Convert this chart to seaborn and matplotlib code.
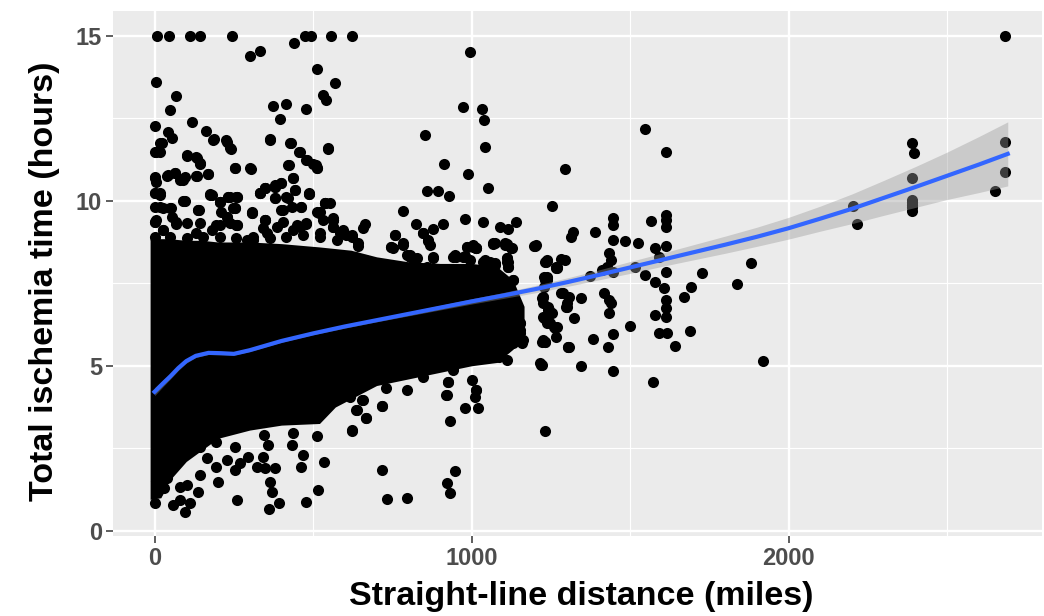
import matplotlib
matplotlib.use("Agg")
import matplotlib.pyplot as plt
import seaborn as sns
import numpy as np

# ---------------- data ----------------
# individually visible points (distance in miles, ischemia time in hours)
pt_x = [8, 46, 111, 143, 244, 474, 492, 556, 622, 2680,
        300, 332, 439, 994, 513, 568, 532, 539, 3, 67,
        48, 374, 413, 395, 479, 971, 1033, 1039, 1041, 852,
        1, 118, 43, 54, 22, 6, 17, 161, 187, 224,
        241, 364, 429, 455, 547, 101, 134, 143, 255, 303,
        423, 482, 509, 511, 912, 988, 1050, 858, 894, 929,
        784, 824, 878, 910, 978, 1036, 1141, 1089, 1113, 758,
        845, 863, 1005, 1068, 1110, 1126, 752, 795, 826, 878,
        941, 973, 994, 1057, 1110,
        1, 38, 64, 90, 134, 169,
        1, 17, 92, 174, 206, 232, 260,
        332, 348, 379, 400, 437, 487, 537,
        379, 421, 463, 140, 306, 348,
        6, 48, 248, 259, 519, 563, 663, 621, 642, 663,
        1252, 847, 861, 658, 747, 784, 805, 742, 716,
        984, 1015, 1104, 1199, 947, 978, 1041, 1073, 1110, 1115,
        1236, 1131, 1236, 1268,
        1547, 1614, 1295, 1566, 1614, 1614, 1614, 1389, 1319, 1313,
        1444, 1447, 1444, 1482, 1525, 1196, 1232, 1283, 1265,
        1433, 1438, 1427, 1444, 1579, 1614, 1590, 1514, 1547, 1579, 1606,
        1614, 1373, 1411, 1726, 1881, 1836, 1691, 1669,
        1227, 1232, 1227, 1129, 1107, 1096,
        1281, 1308, 1346, 1297, 1221,
        1416, 1433, 1438, 1433, 1614, 1614, 1614, 1579,
        1243, 1227, 1259, 1322, 1500, 1590, 1617, 1688, 1642,
        1444, 1431, 1381, 1308, 1221, 1219, 1346, 1444, 1570, 1919, 1230,
        1118, 1151, 1151, 1107, 1129, 1086,
        2203, 2216, 2389, 2396, 2389, 2389, 2389, 2389, 2389, 2389,
        2680, 2680, 2650,
        931, 978, 1020, 1010, 918, 926, 1000, 942, 1015,
        716, 668, 637, 621, 616, 658, 731, 795, 847,
        716, 733, 795, 947, 921, 931,
        0, 59, 80, 96, 111, 80, 101, 137, 143, 166, 143,
        199, 195, 227, 253, 269, 259, 193, 253, 295, 322,
        348, 379, 364, 369, 393, 360, 342, 358, 345,
        437, 432, 467, 463, 477, 516, 534, 513,
        621, 668, 635, 653, 718,
        10, 5, 30, 20, 40,
        1005, 1015, 1073, 1110, 952, 1063, 1115, 1234, 1269, 1294,
        1236, 1225, 1241, 1268, 1231, 1215, 1288, 1299, 1304,
        1152, 1157, 1110, 1057,
        1, 0, 27, 54, 96, 137, 180, 206, 237, 259, 253,
        227, 206, 259, 306, 348, 332, 348, 379, 405, 442,
        487, 521, 537, 563, 590, 132, 69, 27, 180, 353, 311,
        290, 479, 458, 437, 521, 563, 595,
        942, 926, 921, 1015, 1225, 1252, 1236, 1262, 1231, 1223, 1299, 1304,
        17, 1, 185, 227, 237, 363, 427, 458, 547, 101,
        132, 143, 253, 300, 421, 479, 500, 511, 1, 6,
        43, 64, 80, 96, 132, 169, 400, 437, 379, 1,
        17, 90, 174, 206, 232, 258, 332, 348, 379, 416,
        442, 488, 17, 53, 138, 211, 253, 227, 306, 348,
        400, 432, 463, 511, 537, 563, 1, 27, 69, 101,
        143, 195, 237, 258, 343, 385, 406, 448, 479, 532,
        563, 584, 605,
        0, 48, 101, 153, 206, 258, 311, 364, 416, 469, 521, 574,
        553, 563, 595, 621, 642, 632, 658, 758, 747, 784,
        815, 805, 742, 716, 795, 858, 878, 868, 947, 978,
        1015, 984, 1036, 1073, 1068, 1104, 1125, 1110, 1115, 1204,
        1236, 1267, 1236, 1225, 1241, 1225, 1246, 1225, 1267, 1141,
        1152, 1162, 1131]
pt_y = [15.0, 15.0, 15.0, 15.0, 15.0, 15.0, 15.0, 15.0, 15.0, 15.0,
        14.38, 14.55, 14.79, 14.5, 14.0, 13.56, 13.2, 13.05, 13.6, 13.16,
        12.75, 12.87, 12.93, 12.47, 12.77, 12.85, 12.79, 12.45, 11.64, 11.99,
        12.26, 12.39, 12.09, 11.91, 11.74, 11.48, 11.48, 12.11, 11.87, 11.84,
        11.56, 11.87, 11.74, 11.48, 11.57, 11.36, 11.31, 11.13, 10.98, 10.96,
        11.08, 11.23, 11.08, 10.98, 11.11, 10.8, 10.39, 10.3, 10.3, 10.15,
        9.69, 9.29, 9.14, 9.31, 9.45, 9.36, 9.35, 9.19, 9.13, 8.96,
        9.01, 8.81, 8.61, 8.69, 8.69, 8.56, 8.57, 8.35, 8.26, 8.29,
        8.29, 8.29, 8.2, 8.14, 8.14,
        10.73, 10.75, 10.83, 10.63, 10.75, 10.81,
        10.22, 10.22, 10.0, 10.2, 9.97, 10.12, 10.12,
        10.22, 10.38, 10.48, 10.53, 10.68, 10.22, 9.92,
        10.07, 10.07, 9.82, 9.72, 9.67, 9.42,
        9.42, 9.77, 9.77, 9.26, 9.62, 9.42, 9.31, 8.96, 8.71, 8.2,
        9.84, 9.01, 8.79, 9.16, 8.59, 8.71, 8.3, 8.0, 7.7,
        8.61, 8.56, 8.71, 8.63, 8.32, 8.32, 8.2, 8.1, 8.25, 8.0,
        8.18, 7.6, 7.7, 8.0,
        12.16, 11.49, 10.95, 9.38, 9.57, 9.42, 9.21, 9.06, 9.06, 8.89,
        9.47, 9.26, 8.81, 8.79, 8.71, 8.64, 8.15, 8.23, 7.95,
        8.41, 8.2, 8.0, 7.85, 8.56, 8.64, 8.3, 8.0, 7.75, 7.55, 7.35,
        7.85, 7.72, 7.9, 7.8, 8.1, 7.47, 7.39, 7.07,
        7.7, 7.6, 7.39, 7.6, 7.5, 7.09,
        7.19, 7.09, 7.04, 6.79, 7.04,
        7.19, 6.99, 6.89, 6.59, 6.99, 6.74, 6.48, 6.54,
        6.69, 6.44, 6.16, 6.44, 6.2, 5.98, 5.98, 6.06, 5.61,
        5.96, 5.58, 5.82, 5.58, 5.73, 5.02, 5.0, 4.85, 4.5, 5.15, 3.02,
        6.59, 6.28, 5.98, 5.58, 5.78, 5.27,
        9.84, 9.28, 11.76, 11.44, 10.68, 10.02, 9.95, 9.87, 9.8, 9.69,
        11.78, 10.88, 10.3,
        3.32, 3.73, 3.73, 4.06, 4.11, 4.52, 4.57, 4.87, 4.26,
        3.78, 3.42, 3.66, 3.05, 4.06, 3.96, 4.31, 4.26, 4.67,
        1.84, 0.96, 1.0, 1.82, 1.45, 1.15,
        0.83, 0.78, 0.93, 0.58, 0.83, 1.33, 1.38, 1.18, 1.69, 2.19, 2.55,
        1.47, 1.94, 2.14, 1.84, 2.04, 0.93, 2.7, 2.55, 2.24, 1.94,
        1.89, 1.89, 1.48, 1.18, 0.85, 0.65, 2.24, 2.6, 2.9,
        2.95, 2.6, 2.29, 1.94, 0.86, 1.23, 2.07, 2.87,
        3.03, 3.42, 3.66, 3.96, 3.78,
        1.2, 1.5, 1.3, 1.8, 1.6,
        8.66, 8.56, 8.71, 8.66, 8.3, 8.1, 8.15, 8.15, 7.95, 8.2,
        7.65, 7.09, 6.69, 6.18, 5.73, 5.07, 7.19, 6.79, 5.58,
        6.28, 5.68, 5.17, 5.27,
        9.36, 9.82, 9.77, 9.52, 10.0, 9.72, 10.17, 9.97, 10.12, 10.12, 9.77,
        9.52, 9.26, 9.26, 9.64, 9.42, 10.22, 10.38, 10.42, 9.72, 10.32,
        10.2, 9.67, 9.92, 9.42, 9.01, 9.01, 9.31, 9.11, 9.11, 9.01, 8.81,
        8.81, 9.31, 9.21, 9.11, 9.01, 9.21, 9.11,
        4.92, 4.52, 4.11, 4.26, 6.89, 6.59, 6.28, 6.13, 5.73, 5.02, 6.89, 5.58,
        11.74, 11.49, 11.84, 11.79, 11.59, 11.84, 11.74, 11.49, 11.59, 11.39,
        11.33, 11.11, 10.98, 10.98, 11.08, 11.23, 11.11, 10.98, 10.68, 10.58,
        10.78, 10.83, 10.63, 10.71, 10.75, 10.81, 10.53, 10.68, 10.43, 10.22,
        10.17, 10.0, 10.17, 9.97, 10.12, 10.12, 10.22, 10.38, 10.07, 10.12,
        10.32, 10.2, 9.82, 9.77, 9.72, 9.67, 9.77, 9.52, 9.64, 9.42,
        9.72, 9.82, 9.82, 9.67, 9.92, 9.47, 9.37, 9.11, 9.37, 9.32,
        9.32, 9.26, 9.32, 9.26, 9.16, 9.21, 9.37, 9.26, 9.32, 9.42,
        9.21, 9.01, 8.96,
        8.91, 8.91, 8.86, 8.91, 8.91, 8.86, 8.91, 8.86, 8.91, 8.96, 8.91, 8.81,
        9.92, 9.41, 9.01, 8.91, 8.63, 8.3, 8.2, 8.96, 8.59, 8.66,
        8.25, 8.35, 8.0, 7.7, 7.9, 8.0, 8.25, 8.66, 8.35, 8.3,
        8.56, 8.61, 8.15, 8.05, 8.71, 8.66, 8.56, 8.25, 8.0, 8.66,
        8.2, 8.0, 7.6, 7.09, 6.79, 6.49, 6.28, 5.78, 5.88, 6.49,
        6.08, 5.78, 5.68]

# envelope of the solid, fully over-plotted point cloud
core_x = [-14, 20, 45, 100, 150, 200, 300, 400, 520, 570, 620, 700, 800, 900, 1000, 1080, 1130, 1165]
core_lo = [0.95, 1.0, 1.5, 2.1, 2.45, 2.8, 3.05, 3.2, 3.25, 3.75, 4.0, 4.4, 4.6, 4.8, 5.0, 5.1, 5.5, 5.9]
core_hi = [8.85, 8.85, 8.85, 8.8, 8.8, 8.75, 8.75, 8.7, 8.6, 8.55, 8.5, 8.3, 8.15, 8.1, 8.1, 8.0, 7.6, 6.8]

# smoothed fit with its confidence half-width
smooth_x = [0, 25, 50, 75, 100, 130, 170, 210, 250, 300, 400, 500, 600, 700, 800, 900, 1000,
            1100, 1200, 1300, 1400, 1500, 1600, 1700, 1800, 1900, 2000, 2100, 2200, 2300,
            2400, 2500, 2600, 2690]
smooth_y = [4.21, 4.45, 4.68, 4.93, 5.14, 5.3, 5.39, 5.38, 5.36, 5.47, 5.75, 5.98, 6.19, 6.38,
            6.57, 6.76, 6.95, 7.13, 7.32, 7.53, 7.75, 7.98, 8.21, 8.44, 8.67, 8.91, 9.17,
            9.46, 9.76, 10.09, 10.42, 10.76, 11.1, 11.42]
smooth_se = [0.12, 0.1, 0.08, 0.07, 0.06, 0.05, 0.05, 0.05, 0.04, 0.04, 0.04, 0.04, 0.05, 0.05,
             0.06, 0.07, 0.08, 0.09, 0.11, 0.13, 0.15, 0.18, 0.2, 0.23, 0.26, 0.29, 0.33,
             0.38, 0.45, 0.53, 0.62, 0.72, 0.85, 0.97]

x_ticks = [0, 1000, 2000]
x_minor = [500, 1500, 2500]
y_ticks = [0, 5, 10, 15]
y_minor = [2.5, 7.5, 12.5]
x_title = "Straight-line distance (miles)"
y_title = "Total ischemia time (hours)"

# ---------------- drawing ----------------
plt.rcParams['font.family'] = ['Liberation Sans', 'DejaVu Sans']

W, H = 1044, 616
fig = plt.figure(figsize=(W / 100, H / 100), dpi=100)
left, right, top, bottom = 113, 1042, 11, 536
ax = fig.add_axes([left / W, 1 - bottom / H, (right - left) / W, (bottom - top) / H])
ax.set_facecolor('#EBEBEB')
for s in ax.spines.values():
    s.set_visible(False)

ax.set_xticks(x_ticks)
ax.set_xticks(x_minor, minor=True)
ax.set_yticks(y_ticks)
ax.set_yticks(y_minor, minor=True)
ax.grid(which='major', color='white', linewidth=1.7)
ax.grid(which='minor', color='white', linewidth=0.85)
ax.set_axisbelow(True)

ax.fill_between(core_x, core_lo, core_hi, color='black', linewidth=0, zorder=2)
sns.scatterplot(x=pt_x, y=pt_y, ax=ax, s=64, color='black', linewidth=0, zorder=3)

lo = np.array(smooth_y) - np.array(smooth_se)
hi = np.array(smooth_y) + np.array(smooth_se)
ax.fill_between(smooth_x, lo, hi, color='#999999', alpha=0.4, linewidth=0, zorder=4)
sns.lineplot(x=smooth_x, y=smooth_y, ax=ax, color='#3366FF', linewidth=3.0,
             estimator=None, sort=False, zorder=5)

ax.set_xlim(-131, 2798)
ax.set_ylim(-0.16, 15.75)

ax.tick_params(which='major', length=5, width=1.1, color='#333333', pad=3,
               labelsize=17, labelcolor='#4D4D4D')
ax.tick_params(which='minor', length=0)
for lab in ax.get_xticklabels() + ax.get_yticklabels():
    lab.set_fontweight('bold')

ax.set_xlabel(x_title, fontsize=24.5, fontweight='bold', color='black', va='center')
ax.set_ylabel(y_title, fontsize=24.5, fontweight='bold', color='black', va='center')
ax.xaxis.set_label_coords((581 - left) / (right - left), (bottom - 597) / (bottom - top))
ax.yaxis.set_label_coords((45 - left) / (right - left), (bottom - 281) / (bottom - top))

fig.savefig('out.png', dpi=100)
